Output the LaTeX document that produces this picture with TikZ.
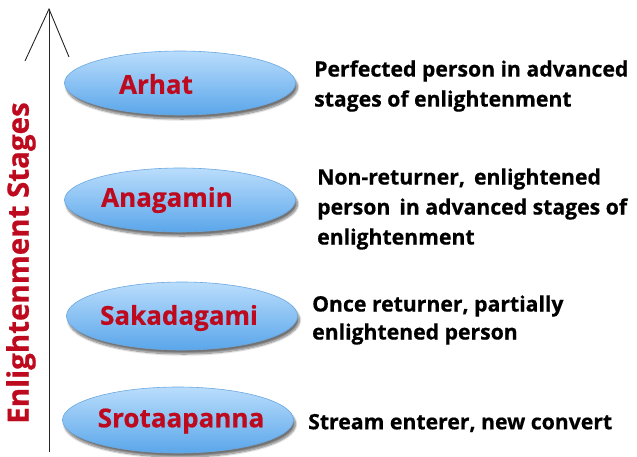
\documentclass[tikz,border=0pt]{standalone}
\usepackage{fontspec}
\setmainfont{Open Sans}[BoldFeatures={FakeBold=0.6}]
\usetikzlibrary{shapes.geometric,shadows.blur}
\definecolor{stagered}{HTML}{BE0A1E}
\definecolor{elltop}{HTML}{BADDFC}
\definecolor{ellbot}{HTML}{5AA6EA}
\definecolor{ellline}{HTML}{6AA8E0}
\tikzset{
  x=1pt, y=-1pt,
  stageell/.style={ellipse, minimum width=231pt, minimum height=64pt, inner sep=0pt,
    draw=ellline, line width=0.6pt, top color=elltop, bottom color=ellbot,
    blur shadow={shadow xshift=2pt, shadow yshift=-4pt, shadow blur steps=10, shadow opacity=55}},
  stagelbl/.style={text=stagered, font=\bfseries\fontsize{26}{29}\selectfont, inner sep=0pt},
  desc/.style={anchor=west, align=left, font=\bfseries\fontsize{21.2}{30}\selectfont, inner sep=0pt},
}
\begin{document}
\begin{tikzpicture}
\useasboundingbox (0,0) rectangle (637,456);
% axis
\coordinate (top) at (49,9);
\coordinate (bot) at (49,452);
\coordinate (barbL) at (25,61);
\coordinate (barbR) at (69,57);
\draw[line width=0.9pt, black!85] (bot) -- (top);
\draw[line width=0.9pt, black!85] (barbL) -- (top) -- (barbR);
\node[rotate=90, text=stagered, font=\bfseries\fontsize{29.5}{33}\selectfont, inner sep=0pt] (axislbl) at (21,263) {Enlightenment Stages};
% ellipses
\node[stageell] (e1) at (180,83) {};
\node[stageell] (e2) at (180,200) {};
\node[stageell, minimum height=68pt] (e3) at (182,316) {};
\node[stageell, minimum height=66pt] (e4) at (178,420) {};
\node[stagelbl] (l1) at (156,84) {Arhat};
\node[stagelbl] (l2) at (167,200) {Anagamin};
\node[stagelbl] (l3) at (179,318) {Sakadagami};
\node[stagelbl] (l4) at (181,421) {Srotaapanna};
% descriptions
\node[desc] (d1) at (314,86) {Perfected person in advanced\\stages of enlightenment};
\node[desc] (d2) at (317,209) {Non-returner,\, enlightened\\person\, in advanced stages of\\enlightenment};
\node[desc, font=\bfseries\fontsize{21.2}{28}\selectfont] (d3) at (312,320) {Once returner, partially\\enlightened person};
\node[desc] (d4) at (308,423) {Stream enterer, new convert};
\end{tikzpicture}
\end{document}
